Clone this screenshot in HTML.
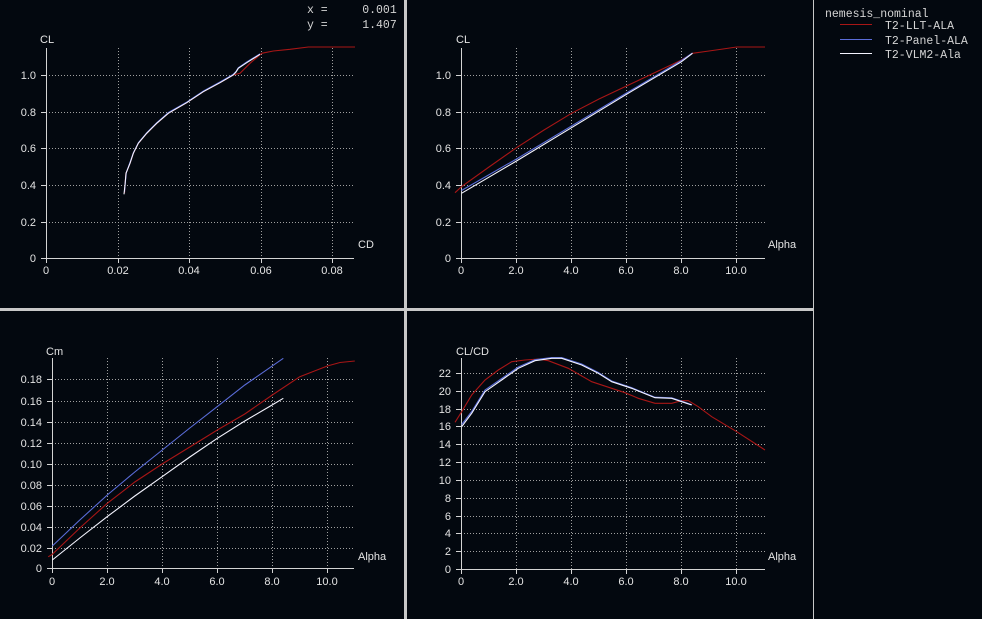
<!DOCTYPE html>
<html>
<head>
<meta charset="utf-8">
<style>
html,body{margin:0;padding:0;background:#03080f;}
svg{display:block;}
.t{font-family:"Liberation Sans",sans-serif;font-size:11px;fill:#e4e4e4;}
.m{font-family:"Liberation Mono",monospace;font-size:11.5px;fill:#d4d4d4;white-space:pre;}
.ax{stroke:#d4d4d4;stroke-width:1;fill:none;shape-rendering:crispEdges;}
.gr{stroke:#a0a0a0;stroke-width:1;stroke-dasharray:1 2;fill:none;shape-rendering:crispEdges;}
.r{stroke:#a81616;stroke-width:1.1;fill:none;}
.b{stroke:#5a6cd8;stroke-width:1.1;fill:none;}
.w{stroke:#f4f4ff;stroke-width:1.1;fill:none;}
</style>
</head>
<body>
<svg width="982" height="619" viewBox="0 0 982 619" xmlns="http://www.w3.org/2000/svg">
<rect x="0" y="0" width="982" height="619" fill="#03080f"/>
<!-- separators -->
<rect x="404" y="0" width="3" height="619" fill="#c8c8c8"/>
<rect x="0" y="308" width="813" height="3" fill="#c8c8c8"/>
<rect x="813" y="0" width="1" height="619" fill="#c8c8c8"/>

<!-- coords -->
<text class="m" x="307" y="13">x =     0.001</text>
<text class="m" x="307" y="28">y =     1.407</text>

<!-- legend -->
<text class="m" x="825" y="17">nemesis_nominal</text>
<line x1="840" y1="24.5" x2="872" y2="24.5" stroke="#a81616" stroke-width="1"/>
<text class="m" x="885" y="29">T2-LLT-ALA</text>
<line x1="840" y1="39.5" x2="872" y2="39.5" stroke="#5a6cd8" stroke-width="1"/>
<text class="m" x="885" y="44">T2-Panel-ALA</text>
<line x1="840" y1="53.5" x2="872" y2="53.5" stroke="#f4f4ff" stroke-width="1"/>
<text class="m" x="885" y="58">T2-VLM2-Ala</text>

<!-- ============ TOP LEFT: CL vs CD ============ -->
<g>
<path class="gr" d="M46 222.5H354M46 185.5H354M46 148.5H354M46 112.5H354M46 75.5H354"/>
<path class="gr" d="M118.5 48V258M189.5 48V258M261.5 48V258M332.5 48V258"/>
<path class="ax" d="M46.5 48V263M41 258.5H354"/>
<path class="ax" d="M41 222.5H46M41 185.5H46M41 148.5H46M41 112.5H46M41 75.5H46"/>
<path class="ax" d="M118.5 258V263M189.5 258V263M261.5 258V263M332.5 258V263"/>
<g class="t" text-anchor="end">
<text x="36" y="262">0</text><text x="36" y="226">0.2</text><text x="36" y="189">0.4</text><text x="36" y="152">0.6</text><text x="36" y="116">0.8</text><text x="36" y="79">1.0</text>
</g>
<g class="t" text-anchor="middle">
<text x="46" y="274">0</text><text x="118" y="274">0.02</text><text x="189" y="274">0.04</text><text x="261" y="274">0.06</text><text x="332" y="274">0.08</text>
</g>
<text class="t" x="40" y="43">CL</text>
<text class="t" x="358" y="248">CD</text>
<polyline class="r" points="124.5,193 125,185 126,173.3 130,163.3 133.3,153.3 138.3,143.3 146.7,133.3 156.7,123.3 168.3,113.3 186.7,102.7 203.3,91.7 220,82.7 233.3,75 240,73.3 250,63.3 261.7,53.3 273.3,51 290,49.3 308.3,47 355,47"/>
<polyline class="b" points="124.5,192 125.2,184 126.3,172.5 130,162.5 133.5,152.5 138.5,142.5 147,132.5 157,122.5 168.5,112.5 187,102 203.5,91 220,82 233,74.5 236,71.5 238.3,67.8 246.7,62 260,53.8"/>
<polyline class="w" points="124,194.3 125,185 126,173.3 130,163.3 133.3,153.3 138.3,143.3 146.7,133.3 156.7,123.3 168.3,113.3 186.7,102.7 203.3,91.7 220,82.7 233.3,75 236,72 238.3,68.3 246.7,62.7 260,54.3"/>
</g>

<!-- ============ TOP RIGHT: CL vs Alpha ============ -->
<g>
<path class="gr" d="M461 222.5H765M461 185.5H765M461 148.5H765M461 112.5H765M461 75.5H765"/>
<path class="gr" d="M516.5 48V258M571.5 48V258M626.5 48V258M681.5 48V258M736.5 48V258"/>
<path class="ax" d="M461.5 48V263M456 258.5H765"/>
<path class="ax" d="M456 222.5H461M456 185.5H461M456 148.5H461M456 112.5H461M456 75.5H461"/>
<path class="ax" d="M516.5 258V263M571.5 258V263M626.5 258V263M681.5 258V263M736.5 258V263"/>
<g class="t" text-anchor="end">
<text x="451" y="262">0</text><text x="451" y="226">0.2</text><text x="451" y="189">0.4</text><text x="451" y="152">0.6</text><text x="451" y="116">0.8</text><text x="451" y="79">1.0</text>
</g>
<g class="t" text-anchor="middle">
<text x="461" y="274">0</text><text x="516" y="274">2.0</text><text x="571" y="274">4.0</text><text x="626" y="274">6.0</text><text x="681" y="274">8.0</text><text x="736" y="274">10.0</text>
</g>
<text class="t" x="456" y="43">CL</text>
<text class="t" x="768" y="248">Alpha</text>
<polyline class="r" points="455,192.7 461.5,186.7 489,167 516.5,147.7 544,130 571.5,113.3 599,99 626.5,86 654,73 681.5,60 692.5,53.3 709,51 723,49 736.5,47 765,47"/>
<polyline class="b" points="461.5,190.5 516.5,159 571.5,126 626.5,93 681.5,60.5 692.5,53"/>
<polyline class="w" points="461.5,193.3 516.5,161 571.5,127.7 626.5,94.3 681.5,61.7 692.5,53.3"/>
</g>

<!-- ============ BOTTOM LEFT: Cm vs Alpha ============ -->
<g>
<path class="gr" d="M52 548.5H354M52 527.5H354M52 506.5H354M52 485.5H354M52 464.5H354M52 443.5H354M52 422.5H354M52 401.5H354M52 379.5H354"/>
<path class="gr" d="M107.5 358V568M162.5 358V568M217.5 358V568M272.5 358V568M327.5 358V568"/>
<path class="ax" d="M52.5 358V573M47 568.5H354"/>
<path class="ax" d="M47 548.5H52M47 527.5H52M47 506.5H52M47 485.5H52M47 464.5H52M47 443.5H52M47 422.5H52M47 401.5H52M47 379.5H52"/>
<path class="ax" d="M107.5 568V573M162.5 568V573M217.5 568V573M272.5 568V573M327.5 568V573"/>
<g class="t" text-anchor="end">
<text x="42" y="572">0</text><text x="42" y="552">0.02</text><text x="42" y="531">0.04</text><text x="42" y="510">0.06</text><text x="42" y="489">0.08</text><text x="42" y="468">0.10</text><text x="42" y="447">0.12</text><text x="42" y="426">0.14</text><text x="42" y="405">0.16</text><text x="42" y="383">0.18</text>
</g>
<g class="t" text-anchor="middle">
<text x="52" y="585">0</text><text x="107" y="585">2.0</text><text x="162" y="585">4.0</text><text x="217" y="585">6.0</text><text x="272" y="585">8.0</text><text x="327" y="585">10.0</text>
</g>
<text class="t" x="46" y="355">Cm</text>
<text class="t" x="358" y="560">Alpha</text>
<polyline class="b" points="52.3,546 79.8,520 107.3,495 134.8,472 162.3,450 189.8,428 217.3,406.6 244.8,385 283.3,358.3"/>
<polyline class="r" points="48.2,556.8 52.3,554.3 79.8,528 107.3,503.3 134.8,482 162.3,463.9 189.8,447 217.3,430 244.8,414 272.3,395 299.8,376.7 327.3,366 340,362.5 354.8,361"/>
<polyline class="w" points="52.3,560 79.8,538 107.3,516.6 134.8,496 162.3,476.6 189.8,457 217.3,438.3 244.8,421 272.3,404.9 283.3,398.3"/>
</g>

<!-- ============ BOTTOM RIGHT: CL/CD vs Alpha ============ -->
<g>
<path class="gr" d="M461 551.5H765M461 533.5H765M461 516.5H765M461 498.5H765M461 480.5H765M461 462.5H765M461 444.5H765M461 426.5H765M461 409.5H765M461 391.5H765M461 373.5H765"/>
<path class="gr" d="M516.5 358V569M571.5 358V569M626.5 358V569M681.5 358V569M736.5 358V569"/>
<path class="ax" d="M461.5 358V574M456 569.5H765"/>
<path class="ax" d="M456 551.5H461M456 533.5H461M456 516.5H461M456 498.5H461M456 480.5H461M456 462.5H461M456 444.5H461M456 426.5H461M456 409.5H461M456 391.5H461M456 373.5H461"/>
<path class="ax" d="M516.5 569V574M571.5 569V574M626.5 569V574M681.5 569V574M736.5 569V574"/>
<g class="t" text-anchor="end">
<text x="451" y="573">0</text><text x="451" y="555">2</text><text x="451" y="537">4</text><text x="451" y="520">6</text><text x="451" y="502">8</text><text x="451" y="484">10</text><text x="451" y="466">12</text><text x="451" y="448">14</text><text x="451" y="430">16</text><text x="451" y="413">18</text><text x="451" y="395">20</text><text x="451" y="377">22</text>
</g>
<g class="t" text-anchor="middle">
<text x="461" y="585">0</text><text x="516" y="585">2.0</text><text x="571" y="585">4.0</text><text x="626" y="585">6.0</text><text x="681" y="585">8.0</text><text x="736" y="585">10.0</text>
</g>
<text class="t" x="456" y="355">CL/CD</text>
<text class="t" x="768" y="560">Alpha</text>
<polyline class="r" points="455,422.3 461.7,411.7 471.7,395 485,380 498.3,370 511.7,361.7 525,360 538.3,359 548.3,360.7 568.3,368.3 591.7,381.7 611.7,388.3 625,392.7 638.3,398.3 655,403.3 671.7,403.3 681.7,400.7 688.3,400.7 698.3,406.7 711.7,416.7 736.7,431.7 765,450"/>
<polyline class="b" points="461.7,424.5 471.7,411.5 485,390 501.7,378.5 518.3,367 535,359.7 551.7,357.5 561.7,357.5 581.7,364 598.3,372.5 611.7,381 631.7,387.7 655,397.2 671.7,397.8 681.7,401.2 691.7,404.6"/>
<polyline class="w" points="461.7,426.7 471.7,413.3 485,391.7 501.7,380 518.3,368.3 535,360.7 551.7,358.3 561.7,358.3 581.7,365 598.3,373.3 611.7,381.7 631.7,388.3 655,397.7 671.7,398.3 681.7,401.7 691.7,405"/>
</g>
</svg>
</body>
</html>
